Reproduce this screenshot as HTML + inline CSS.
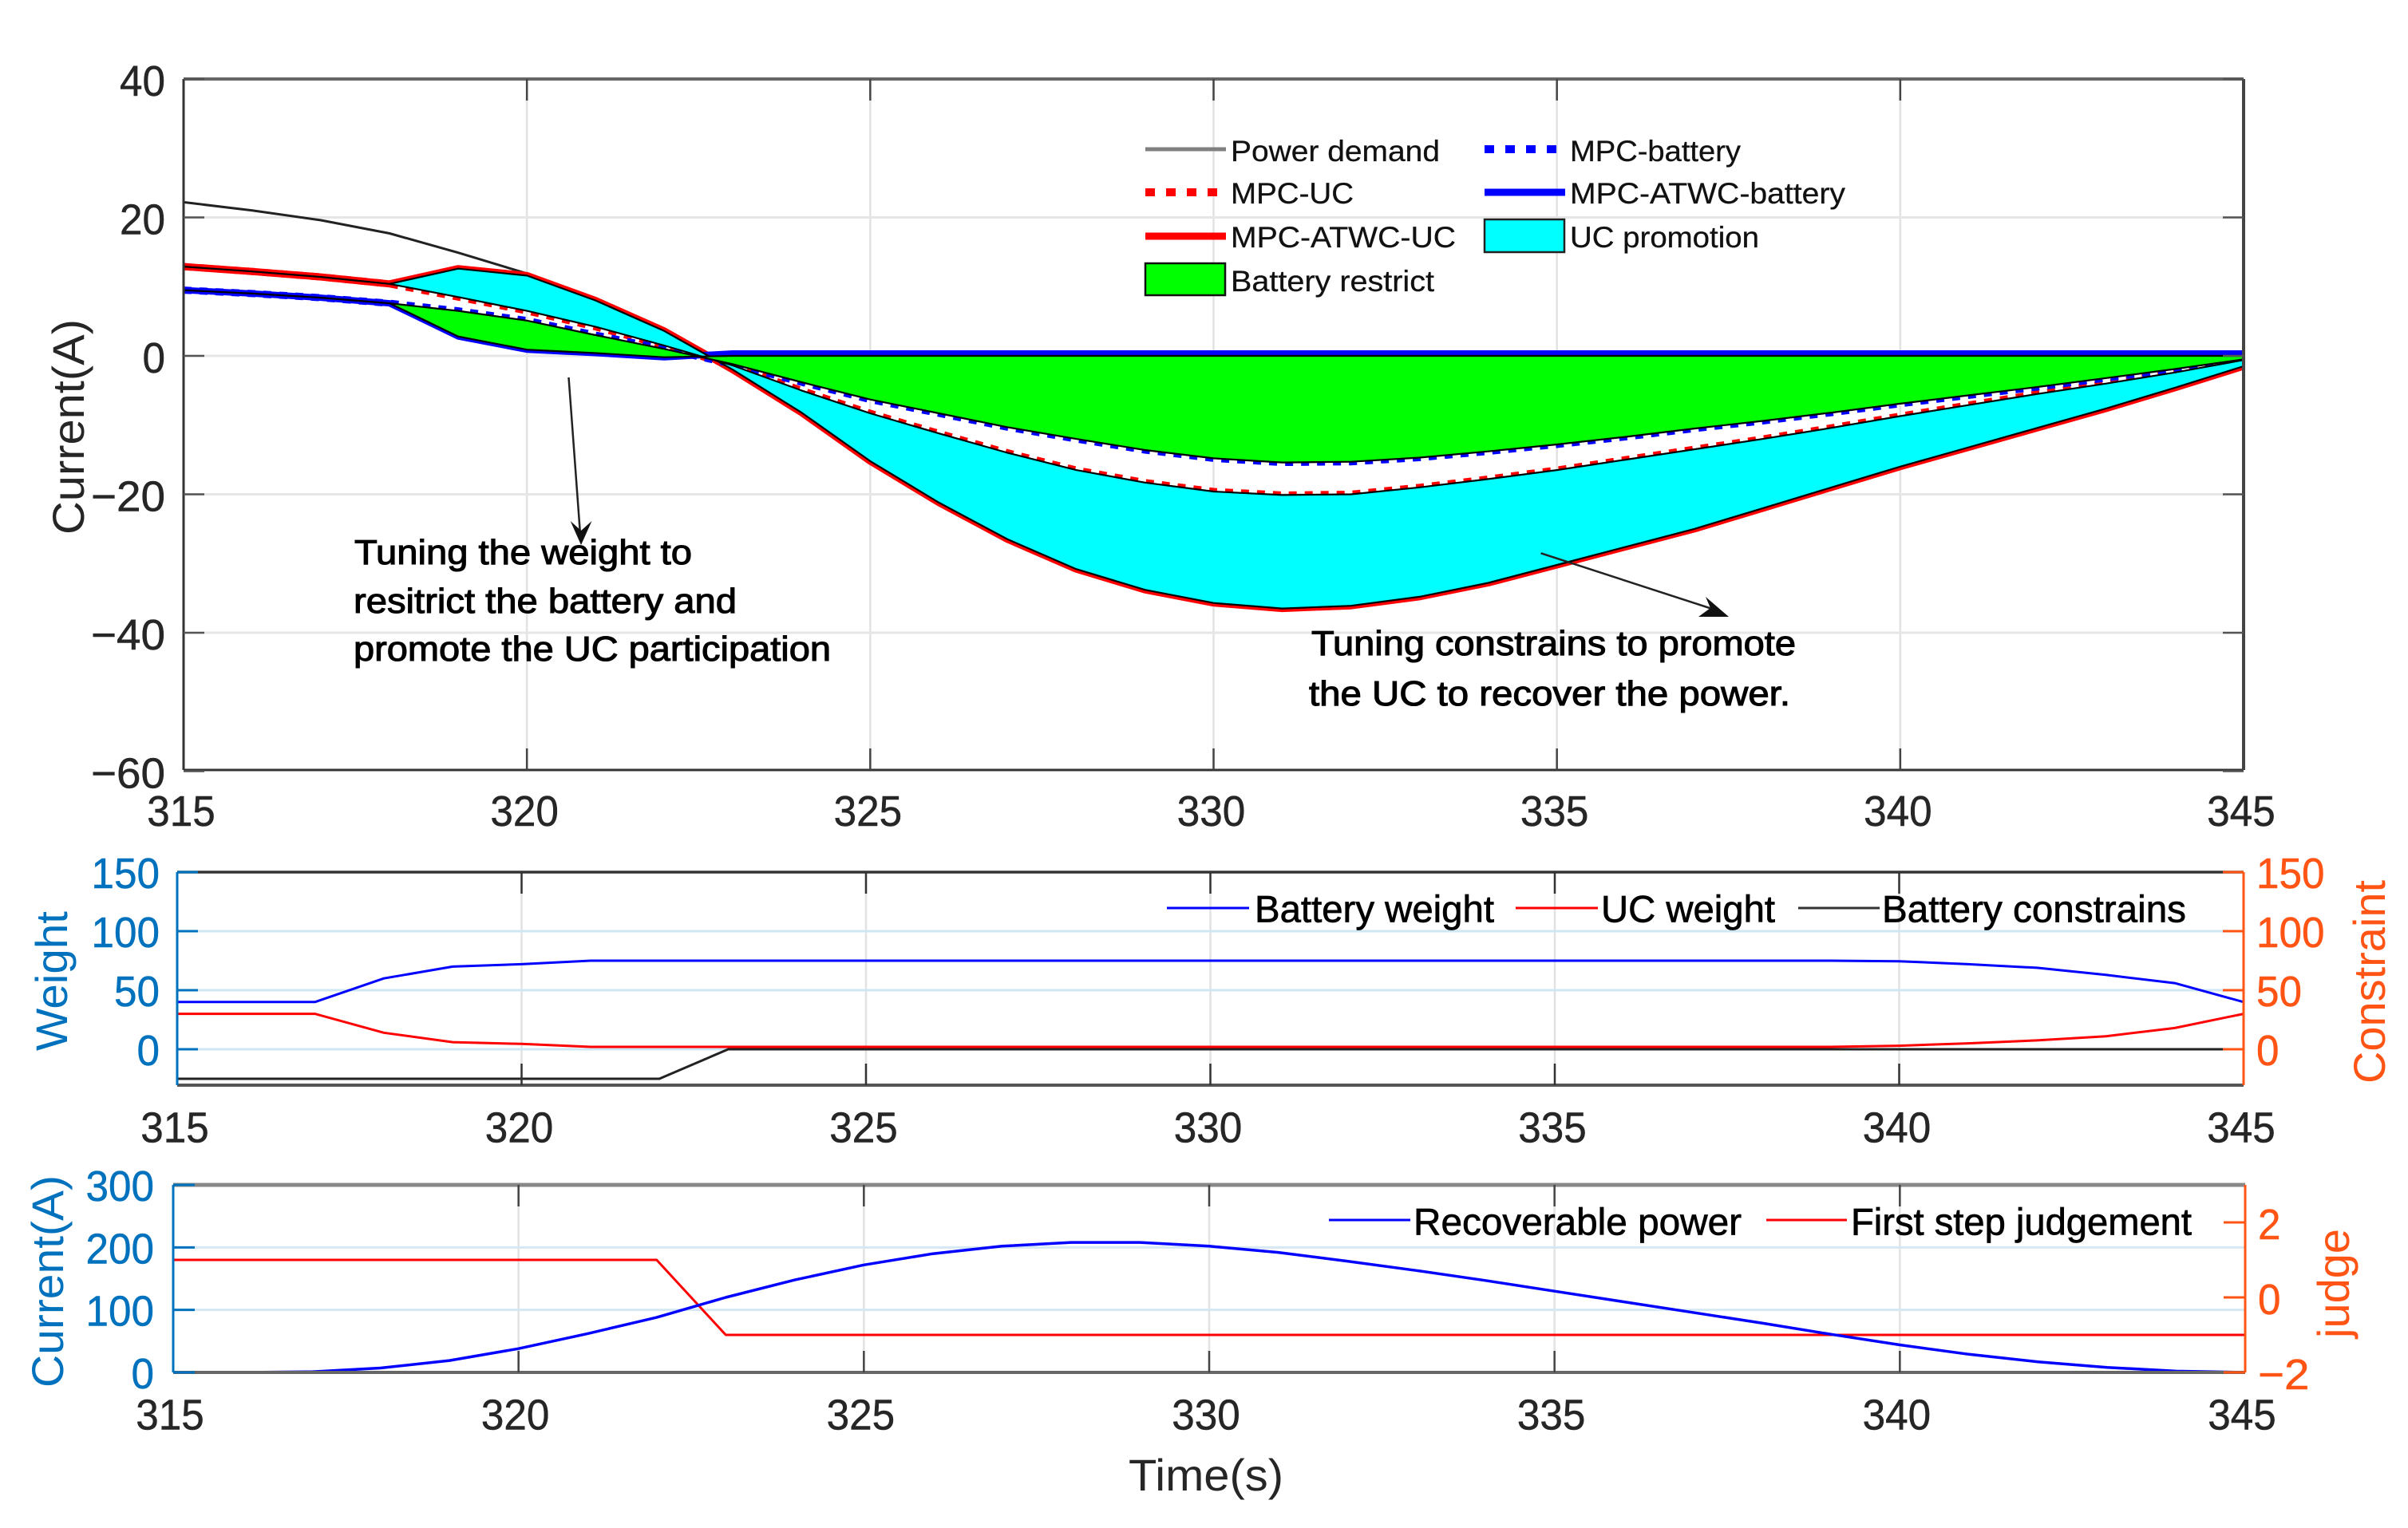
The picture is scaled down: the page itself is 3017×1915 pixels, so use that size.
<!DOCTYPE html>
<html lang="en">
<head>
<meta charset="utf-8">
<title>Current, weight and recoverable power over time</title>
<style>
html,body{margin:0;padding:0;background:#fff;}
svg{display:block;font-family:"Liberation Sans",Arial,sans-serif;}
.lg{font-size:37px;fill:#111;stroke:#111;stroke-width:.3px;}
.note{font-size:44px;fill:#000;stroke:#000;stroke-width:1.1px;}
.lg2{font-size:47px;fill:#000;stroke:#000;stroke-width:.7px;}
.ttl{font-size:56px;}
</style>
</head>
<body>
<svg id="figure" xmlns="http://www.w3.org/2000/svg" width="3017" height="1915" viewBox="0 0 3017 1915">
  <rect width="3017" height="1915" fill="#fff"/>
  <g id="p1"></g>
  <g id="p2"></g>
  <g id="p3"></g>

  <!-- top panel legend -->
  <g>
    <g>
      <line x1="1435" y1="187" x2="1536" y2="187" stroke="#808080" stroke-width="5"/>
      <text class="lg" x="1542" y="202" textLength="262" lengthAdjust="spacingAndGlyphs">Power demand</text>
    </g>
    <g>
      <line x1="1860" y1="187" x2="1951" y2="187" stroke="#0000ff" stroke-width="10" stroke-dasharray="12 14"/>
      <text class="lg" x="1967" y="202" textLength="214" lengthAdjust="spacingAndGlyphs">MPC-battery</text>
    </g>
    <g>
      <line x1="1435" y1="241" x2="1527" y2="241" stroke="#ff0000" stroke-width="10" stroke-dasharray="12 14"/>
      <text class="lg" x="1542" y="255" textLength="154" lengthAdjust="spacingAndGlyphs">MPC-UC</text>
    </g>
    <g>
      <line x1="1860" y1="241" x2="1961" y2="241" stroke="#0000ff" stroke-width="9"/>
      <text class="lg" x="1967" y="255" textLength="345" lengthAdjust="spacingAndGlyphs">MPC-ATWC-battery</text>
    </g>
    <g>
      <line x1="1435" y1="296" x2="1536" y2="296" stroke="#ff0000" stroke-width="9"/>
      <text class="lg" x="1542" y="310" textLength="282" lengthAdjust="spacingAndGlyphs">MPC-ATWC-UC</text>
    </g>
    <g>
      <rect x="1860" y="275" width="100" height="41" fill="#00ffff" stroke="#222" stroke-width="2.5"/>
      <text class="lg" x="1967" y="310" textLength="237" lengthAdjust="spacingAndGlyphs">UC promotion</text>
    </g>
    <g>
      <rect x="1435" y="330" width="100" height="40" fill="#00ff00" stroke="#111" stroke-width="2.5"/>
      <text class="lg" x="1542" y="365" textLength="255" lengthAdjust="spacingAndGlyphs">Battery restrict</text>
    </g>
  </g>

  <!-- annotations -->
  <g>
    <line x1="712.5" y1="473" x2="727" y2="670" stroke="#222" stroke-width="2.5"/>
    <polygon points="714.7,653 728,665 741.5,653 728,683" fill="#111"/>
    <text class="note" x="444" y="707" textLength="423" lengthAdjust="spacingAndGlyphs">Tuning the weight to</text>
    <text class="note" x="443" y="768" textLength="480" lengthAdjust="spacingAndGlyphs">resitrict the battery and</text>
    <text class="note" x="443" y="828" textLength="598" lengthAdjust="spacingAndGlyphs">promote the UC participation</text>
  </g>
  <g>
    <line x1="1930.6" y1="693.3" x2="2148" y2="764" stroke="#222" stroke-width="2.5"/>
    <polygon points="2137,748 2166,773 2128,773 2143,762" fill="#111"/>
    <text class="note" x="1643" y="821" textLength="607" lengthAdjust="spacingAndGlyphs">Tuning constrains to promote</text>
    <text class="note" x="1640" y="884" textLength="603" lengthAdjust="spacingAndGlyphs">the UC to recover the power.</text>
  </g>

  <!-- middle panel legend -->
  <g>
    <g>
      <line x1="1462" y1="1138" x2="1565" y2="1138" stroke="#0000ff" stroke-width="3"/>
      <text class="lg2" x="1572" y="1155.5" textLength="300" lengthAdjust="spacingAndGlyphs">Battery weight</text>
    </g>
    <g>
      <line x1="1899" y1="1138" x2="2002" y2="1138" stroke="#ff0000" stroke-width="3"/>
      <text class="lg2" x="2006" y="1155.5" textLength="218" lengthAdjust="spacingAndGlyphs">UC weight</text>
    </g>
    <g>
      <line x1="2253" y1="1138" x2="2355" y2="1138" stroke="#333" stroke-width="3"/>
      <text class="lg2" x="2358" y="1155.5" textLength="381" lengthAdjust="spacingAndGlyphs">Battery constrains</text>
    </g>
  </g>

  <!-- bottom panel legend -->
  <g>
    <g>
      <line x1="1665" y1="1529" x2="1767" y2="1529" stroke="#0000ff" stroke-width="3"/>
      <text class="lg2" x="1771" y="1547.5" textLength="411" lengthAdjust="spacingAndGlyphs">Recoverable power</text>
    </g>
    <g>
      <line x1="2213" y1="1529" x2="2314" y2="1529" stroke="#ff0000" stroke-width="3"/>
      <text class="lg2" x="2319" y="1547.5" textLength="427" lengthAdjust="spacingAndGlyphs">First step judgement</text>
    </g>
  </g>

  <!-- axis titles -->
  <text class="ttl" fill="#262626" transform="translate(105,670) rotate(-90)" textLength="270" lengthAdjust="spacingAndGlyphs">Current(A)</text>
  <text class="ttl" fill="#0072bd" transform="translate(84,1317) rotate(-90)" textLength="175" lengthAdjust="spacingAndGlyphs">Weight</text>
  <text class="ttl" fill="#ff5414" transform="translate(2988,1358) rotate(-90)" textLength="255" lengthAdjust="spacingAndGlyphs">Constraint</text>
  <text class="ttl" fill="#0072bd" transform="translate(79,1739) rotate(-90)" textLength="266" lengthAdjust="spacingAndGlyphs">Current(A)</text>
  <text class="ttl" fill="#ff5414" transform="translate(2943,1677) rotate(-90)" textLength="137" lengthAdjust="spacingAndGlyphs">judge</text>
  <text class="ttl" fill="#262626" x="1414" y="1868" textLength="194" lengthAdjust="spacingAndGlyphs">Time(s)</text>
</svg>

<script>
// Shared time axis, one sample per second
const times = [315,316,317,318,319,320,321,322,323,324,325,326,327,328,329,330,331,332,333,334,335,336,337,338,339,340,341,342,343,344,345];
const xTickLabels = [315,320,325,330,335,340,345];

// Top panel
const currentTicks = [40,20,0,-20,-40,-60];
const powerDemand = [22.2,21,19.6,17.7,14.9,11.9,8,3.6,-2,-8.2,-15.2,-21.2,-26.5,-30.8,-33.8,-35.7,-36.5,-36.1,-34.8,-32.8,-30.2,-27.6,-25,-22,-19,-16,-13.2,-10.4,-7.6,-4.6,-1.5];
const mpcAtwcUc = [12.9,12.2,11.4,10.4,12.6,11.6,8,3.6,-2,-8.2,-15.2,-21.2,-26.5,-30.8,-33.8,-35.7,-36.5,-36.1,-34.8,-32.8,-30.2,-27.6,-25,-22,-19,-16,-13.2,-10.4,-7.6,-4.6,-1.5];
const mpcUc = [12.9,12.2,11.4,10.4,8.5,6.5,4.2,1.5,-1.4,-5,-8.3,-11.2,-14,-16.5,-18.3,-19.6,-20.1,-20,-19,-17.8,-16.5,-15,-13.5,-12,-10.4,-8.7,-7.1,-5.5,-4,-2.4,-0.6];
const mpcBattery = [9.5,9,8.4,7.6,6.5,5.1,3,1,-1.2,-3.8,-6.3,-8.3,-10.3,-12,-13.6,-14.8,-15.4,-15.3,-14.7,-13.8,-12.8,-11.7,-10.5,-9.4,-8.2,-6.9,-5.7,-4.5,-3.2,-1.9,-0.5];
const mpcAtwcBattery = [9.5,9,8.4,7.6,2.8,0.9,0.4,-0.2,0.35,0.35,0.35,0.35,0.35,0.35,0.35,0.35,0.35,0.35,0.35,0.35,0.35,0.35,0.35,0.35,0.35,0.35,0.35,0.35,0.35,0.35,0.35];

// Middle panel
const weightTicks = [150,100,50,0];
const constraintTicks = [150,100,50,0];
const batteryWeight = [40,40,40,60,70,72,75,75,75,75,75,75,75,75,75,75,75,75,75,75,75,75,75,75,75,74.5,72,69,63,56,40];
const ucWeight = [30,30,30,14,6,4.5,2,2,2,2,2,2,2,2,2,2,2,2,2,2,2,2,2,2,2,3,5,7.5,11,18,30];
const batteryConstrains = [-25,-25,-25,-25,-25,-25,-25,-25,0,0,0,0,0,0,0,0,0,0,0,0,0,0,0,0,0,0,0,0,0,0,0];

// Bottom panel
const recoverableTicks = [300,200,100,0];
const judgeTicks = [2,0,-2];
const recoverablePower = [0,0,1,7,19,38,62,88,120,148,172,190,202,208,208,202,192,178,163,147,130,113,96,79,61,44,29,17,8,2,0];
const firstStepJudgement = [1,1,1,1,1,1,1,1,-1,-1,-1,-1,-1,-1,-1,-1,-1,-1,-1,-1,-1,-1,-1,-1,-1,-1,-1,-1,-1,-1,-1];

const NS = 'http://www.w3.org/2000/svg';

function scale(d0, d1, r0, r1) {
  return function (v) { return r0 + (v - d0) * (r1 - r0) / (d1 - d0); };
}

function mk(parent, tag, name, props) {
  const el = document.createElementNS(NS, tag);
  
  
  for (const k in props) el.setAttribute(k, props[k]);
  parent.appendChild(el);
  return el;
}

function seg(parent, name, x1, y1, x2, y2, color, w) {
  return mk(parent, 'line', name, { x1: x1, y1: y1, x2: x2, y2: y2, stroke: color, 'stroke-width': w });
}

function labelWidth(s) {
  let w = 0;
  for (const c of s) w += (c === '\u2212') ? 36 : 28.5;
  return w;
}

function label(parent, name, value, x, y, anchor, color) {
  const s = String(value).replace('-', '\u2212');
  const w = labelWidth(s);
  const left = anchor === 'end' ? x - w : anchor === 'middle' ? x - w / 2 : x;
  const t = mk(parent, 'text', name, { x: left, y: y, fill: color, stroke: color, 'stroke-width': 0.5, 'font-size': 54, textLength: w, lengthAdjust: 'spacingAndGlyphs' });
  t.textContent = s;
  return t;
}

function linePath(parent, name, xs, ys, X, Y, color, w, dash) {
  const pts = xs.map(function (t, i) { return X(t).toFixed(1) + ',' + Y(ys[i]).toFixed(1); }).join(' ');
  const props = { points: pts, fill: 'none', stroke: color, 'stroke-width': w, 'stroke-linejoin': 'round' };
  if (dash) props['stroke-dasharray'] = dash;
  return mk(parent, 'polyline', name, props);
}

function band(parent, name, xs, a, b, X, Y, fill) {
  const fwd = xs.map(function (t, i) { return X(t).toFixed(1) + ',' + Y(a[i]).toFixed(1); });
  const back = xs.map(function (t, i) { return X(t).toFixed(1) + ',' + Y(b[i]).toFixed(1); }).reverse();
  return mk(parent, 'polygon', name, { points: fwd.concat(back).join(' '), fill: fill, stroke: '#000', 'stroke-width': 2.2, 'stroke-linejoin': 'round' });
}

function grid(g, X, Y, box, yTicks, hColor) {
  xTickLabels.forEach(function (t) {
    if (t === 315 || t === 345) return;
    seg(g, 'grid-x-' + t, X(t), box.top, X(t), box.bottom, '#e2e2e2', 2.5);
  });
  yTicks.forEach(function (v) {
    if (Y(v) <= box.top + 1 || Y(v) >= box.bottom - 1) return;
    seg(g, 'grid-y-' + v, box.left, Y(v), box.right, Y(v), hColor, 3);
  });
}

function xAxis(g, X, box, labelOffset, baseline, tickColor) {
  xTickLabels.forEach(function (t) {
    if (t !== 315 && t !== 345) {
      seg(g, 'x-tick-top-' + t, X(t), box.top, X(t), box.top + 27, tickColor, 2.5);
      seg(g, 'x-tick-bottom-' + t, X(t), box.bottom - 27, X(t), box.bottom, tickColor, 2.5);
    }
    label(g, 'x-tick-label-' + t, t, X(t) + labelOffset, baseline, 'middle', '#262626');
  });
}

/* ---------- top panel ---------- */
(function () {
  const g = document.getElementById('p1');
  const box = { left: 230, right: 2811, top: 99, bottom: 965 };
  const X = scale(315, 345, box.left, box.right);
  const Y = scale(0, 40, 446, 99);
  grid(g, X, Y, box, currentTicks, '#e6e6e6');

  linePath(g, 'power-demand-line', times, powerDemand, X, Y, '#222', 3);
  linePath(g, 'mpc-atwc-uc-line', times, mpcAtwcUc, X, Y, '#ff0000', 9);
  linePath(g, 'mpc-atwc-battery-line', times, mpcAtwcBattery, X, Y, '#0000ff', 8);
  linePath(g, 'mpc-uc-line', times, mpcUc, X, Y, '#ff0000', 9, '10 10');
  linePath(g, 'mpc-battery-line', times, mpcBattery, X, Y, '#0000ff', 9, '10 10');

  const restrictEdge = mpcAtwcBattery.map(function (v, i) { return times[i] >= 323 ? 0 : v; });
  band(g, 'uc-promotion-area', times, mpcAtwcUc, mpcUc, X, Y, '#00ffff');
  band(g, 'battery-restrict-area', times, restrictEdge, mpcBattery, X, Y, '#00ff00');

  seg(g, 'current-axis-top', box.left, box.top, box.right, box.top, '#666', 4);
  seg(g, 'current-axis-bottom', box.left, box.bottom, box.right, box.bottom, '#333', 3);
  seg(g, 'current-axis-left', box.left, box.top, box.left, box.bottom, '#333', 3);
  seg(g, 'current-axis-right', box.right, box.top, box.right, box.bottom, '#444', 4);

  currentTicks.forEach(function (v) {
    seg(g, 'current-y-tick-left-' + v, box.left, Y(v), box.left + 26, Y(v), '#555', 2.5);
    seg(g, 'current-y-tick-right-' + v, box.right - 26, Y(v), box.right, Y(v), '#555', 2.5);
    label(g, 'current-y-tick-label-' + v, v, 207, Y(v) + 21, 'end', '#262626');
  });
  xAxis(g, X, box, -3, 1035, '#444');
})();

/* ---------- middle panel ---------- */
(function () {
  const g = document.getElementById('p2');
  const box = { left: 222, right: 2811, top: 1093, bottom: 1360 };
  const X = scale(315, 345, box.left, box.right);
  const Y = scale(0, 150, 1315, 1093);
  grid(g, X, Y, box, weightTicks, '#cfe6f3');

  linePath(g, 'battery-constrains-line', times, batteryConstrains, X, Y, '#222', 3);
  linePath(g, 'battery-weight-line', times, batteryWeight, X, Y, '#0000ff', 3);
  linePath(g, 'uc-weight-line', times, ucWeight, X, Y, '#ff0000', 3);

  seg(g, 'weight-axis-top', box.left, box.top, box.right, box.top, '#333', 3.5);
  seg(g, 'weight-axis-bottom', box.left, box.bottom, box.right, box.bottom, '#555', 4);
  seg(g, 'weight-axis-left', box.left, box.top, box.left, box.bottom, '#0072bd', 3);
  seg(g, 'constraint-axis-right', box.right, box.top, box.right, box.bottom, '#ff5414', 3);

  weightTicks.forEach(function (v) {
    seg(g, 'weight-y-tick-' + v, box.left, Y(v), box.left + 26, Y(v), '#0072bd', 3);
    label(g, 'weight-y-tick-label-' + v, v, 200, Y(v) + 20, 'end', '#0072bd');
  });
  constraintTicks.forEach(function (v) {
    seg(g, 'constraint-y-tick-' + v, box.right - 26, Y(v), box.right, Y(v), '#ff5414', 3);
    label(g, 'constraint-y-tick-label-' + v, v, 2827, Y(v) + 20, 'start', '#ff5414');
  });
  xAxis(g, X, box, -3, 1431.5, '#333');
})();

/* ---------- bottom panel ---------- */
(function () {
  const g = document.getElementById('p3');
  const box = { left: 217, right: 2813, top: 1485, bottom: 1720 };
  const X = scale(315, 345, box.left, box.right);
  const Y = scale(0, 300, 1720, 1485);
  const YR = scale(-2, 3, 1720, 1485);
  grid(g, X, Y, box, recoverableTicks, '#d6e8f3');

  linePath(g, 'first-step-judgement-line', times, firstStepJudgement, X, YR, '#ff0000', 3);
  linePath(g, 'recoverable-power-line', times, recoverablePower, X, Y, '#0000ff', 3.5);

  seg(g, 'recoverable-axis-top', box.left, box.top, box.right, box.top, '#888', 5);
  seg(g, 'recoverable-axis-bottom', box.left, box.bottom, box.right, box.bottom, '#666', 4);
  seg(g, 'recoverable-axis-left', box.left, box.top, box.left, box.bottom, '#0072bd', 3);
  seg(g, 'judge-axis-right', box.right, box.top, box.right, box.bottom, '#ff5414', 3);

  recoverableTicks.forEach(function (v) {
    seg(g, 'recoverable-y-tick-' + v, box.left, Y(v), box.left + 27, Y(v), '#0072bd', 3);
    label(g, 'recoverable-y-tick-label-' + v, v, 193, Y(v) + 20, 'end', '#0072bd');
  });
  judgeTicks.forEach(function (v) {
    seg(g, 'judge-y-tick-' + v, box.right - 27, YR(v), box.right, YR(v), '#ff5414', 3);
    label(g, 'judge-y-tick-label-' + v, v, 2829, YR(v) + 21, 'start', '#ff5414');
  });
  xAxis(g, X, box, -4, 1791.5, '#444');
})();
</script>
</body>
</html>
